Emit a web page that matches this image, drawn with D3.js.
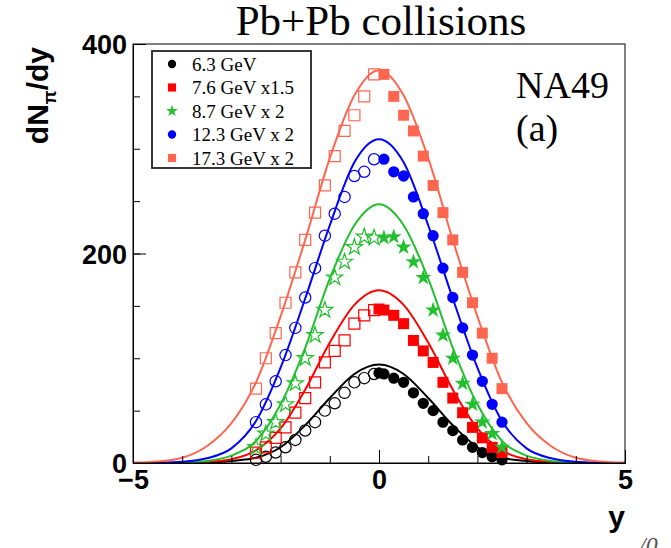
<!DOCTYPE html>
<html>
<head>
<meta charset="utf-8">
<script src="https://cdn.jsdelivr.net/npm/d3@7"></script>
<style>
  body { margin: 0; background: #fff; }
</style>
</head>
<body>
<div id="chart"></div>
<script>
const width = 671,
  height = 548,
  margin = { top: 44, right: 46, bottom: 85, left: 133 };

// model curves, sampled every 0.5 units of rapidity
const curveRapidity = [-5, -4.5, -4, -3.5, -3, -2.5, -2, -1.5, -1, -0.5, 0, 0.5, 1, 1.5, 2, 2.5, 3, 3.5, 4, 4.5, 5];
const curve63  = [0, 0, 0.1, 0.5, 2, 5, 15, 36, 62, 85, 94, 85, 62, 36, 15, 5, 2, 0.5, 0.1, 0, 0];
const curve76  = [0, 0, 0.3, 1, 3.5, 12, 33, 70, 115, 151, 165, 151, 115, 70, 33, 12, 3.5, 1, 0.3, 0, 0];
const curve87  = [0, 0, 0.5, 2, 7, 21, 56, 110, 176, 227, 247, 227, 176, 110, 56, 21, 7, 2, 0.5, 0, 0];
const curve123 = [0, 0.3, 1.2, 4.5, 14, 40, 91, 157, 227, 287, 309, 287, 227, 157, 91, 40, 14, 4.5, 1.2, 0.3, 0];
const curve173 = [0.4, 1.5, 5, 16, 38, 77, 140, 213, 291, 351, 375, 351, 291, 213, 140, 77, 38, 16, 5, 1.5, 0.4];

// measured points, forward hemisphere (the backward ones are their reflection, drawn open)
const rapidity63  = [0, 0.1, 0.3, 0.5, 0.7, 0.9, 1.1, 1.3, 1.5, 1.7, 1.9, 2.1, 2.3, 2.5];
const points63    = [86, 85, 81, 77, 67, 57, 50, 39, 31, 22, 15, 10, 6, 3];
const rapidity76  = [0, 0.1, 0.3, 0.5, 0.7, 0.9, 1.1, 1.3, 1.5, 1.7, 1.9, 2.1, 2.3, 2.5];
const points76    = [147, 146, 141, 133, 117, 107, 96, 77, 62, 48, 34, 24, 15, 10];
const rapidity87  = [0.1, 0.3, 0.5, 0.7, 0.9, 1.1, 1.3, 1.5, 1.7, 1.9, 2.1, 2.3, 2.5];
const points87    = [215, 216, 206, 192, 177, 146, 122, 100, 76, 56, 39, 28, 15];
const rapidity123 = [0.1, 0.3, 0.5, 0.7, 0.9, 1.1, 1.3, 1.5, 1.7, 1.9, 2.1, 2.3, 2.5];
const points123   = [290, 278, 274, 254, 238, 217, 186, 158, 129, 103, 78, 56, 39];
const rapidity173 = [0.1, 0.3, 0.5, 0.7, 0.9, 1.1, 1.3, 1.5, 1.7, 1.9, 2.1, 2.3, 2.5];
const points173   = [371, 350, 332, 317, 293, 265, 239, 213, 182, 153, 124, 100, 71];

const seriesLabels = ["6.3 GeV", "7.6 GeV x1.5", "8.7 GeV x 2", "12.3 GeV x 2", "17.3 GeV x 2"];
const seriesColors = ["#000000", "#ff0000", "#22c02e", "#0000ff", "#ff6650"];

const xTicks = [-5, 0, 5];
const yTicks = [0, 200, 400];

const series = [
  { curve: curve63,  ys: rapidity63,  vals: points63,  symbol: d3.symbolCircle, size: 100 },
  { curve: curve76,  ys: rapidity76,  vals: points76,  symbol: d3.symbolSquare, size: 121 },
  { curve: curve87,  ys: rapidity87,  vals: points87,  symbol: d3.symbolStar,   size: 80 },
  { curve: curve123, ys: rapidity123, vals: points123, symbol: d3.symbolCircle, size: 100 },
  { curve: curve173, ys: rapidity173, vals: points173, symbol: d3.symbolSquare, size: 121 }
].map((s, i) => ({ ...s, label: seriesLabels[i], color: seriesColors[i] }));

const svg = d3.select("#chart")
  .append("svg")
  .attr("width", width)
  .attr("height", height);

const xScale = d3.scaleLinear()
  .domain([-5, 5])
  .range([margin.left, width - margin.right]);

const yScale = d3.scaleLinear()
  .domain([0, 400])
  .range([height - margin.bottom, margin.top]);

const lineFunc = d3.line()
  .x(d => xScale(d[0]))
  .y(d => yScale(d[1]))
  .curve(d3.curveMonotoneX);

// curves
svg.append("g")
  .selectAll("path")
  .data(series)
  .join("path")
  .attr("fill", "none")
  .attr("stroke", d => d.color)
  .attr("stroke-width", 2)
  .attr("d", d => lineFunc(curveRapidity.map((y, i) => [y, d.curve[i]])));

// points: filled for y >= 0, open reflection for y < 0
series.forEach(s => {
  const sym = d3.symbol().type(s.symbol).size(s.size);
  const g = svg.append("g");
  const back = s.ys.filter(y => y > 0).map(y => [-y, s.vals[s.ys.indexOf(y)]]);
  g.selectAll("path.open")
    .data(back)
    .join("path")
    .attr("class", "open")
    .attr("transform", d => `translate(${xScale(d[0])},${yScale(d[1])})`)
    .attr("d", sym)
    .attr("fill", "none")
    .attr("stroke", s.color)
    .attr("stroke-width", 1.2);
  g.selectAll("path.filled")
    .data(s.ys.map((y, i) => [y, s.vals[i]]))
    .join("path")
    .attr("class", "filled")
    .attr("transform", d => `translate(${xScale(d[0])},${yScale(d[1])})`)
    .attr("d", sym)
    .attr("fill", s.color);
});

// frame
svg.append("rect")
  .attr("x", margin.left)
  .attr("y", margin.top)
  .attr("width", width - margin.left - margin.right)
  .attr("height", height - margin.top - margin.bottom)
  .attr("fill", "none")
  .attr("stroke", "#000")
  .attr("stroke-width", 1);

// AXES
const xAxis = svg.append("g")
  .attr("transform", `translate(0,${height - margin.bottom})`);
xAxis.call(d3.axisBottom(xScale).tickValues(d3.range(-5, 6, 1)).tickSize(-7).tickSizeOuter(0).tickFormat(""));
xAxis.append("g")
  .call(d3.axisBottom(xScale).tickValues(xTicks).tickSize(-13).tickSizeOuter(0).tickPadding(7).tickFormat(d3.format("d")));

const yAxis = svg.append("g")
  .attr("transform", `translate(${margin.left},0)`);
yAxis.call(d3.axisLeft(yScale).tickValues(d3.range(0, 401, 50)).tickSize(-7).tickSizeOuter(0).tickFormat(""));
yAxis.append("g")
  .call(d3.axisLeft(yScale).tickValues(yTicks).tickSize(-13).tickSizeOuter(0).tickPadding(6).tickFormat(d3.format("d")));

svg.selectAll(".domain").attr("stroke", "#000");
svg.selectAll(".tick line").attr("stroke", "#000");
svg.selectAll(".tick text")
  .attr("font-family", "Liberation Sans, Arial, sans-serif")
  .attr("font-weight", "bold")
  .attr("font-size", 27)
  .attr("fill", "#000");
yAxis.selectAll(".tick text").attr("dy", "0.36em");

// axis titles
svg.append("text")
  .attr("transform", "translate(48,47) rotate(-90)")
  .attr("text-anchor", "end")
  .attr("font-family", "Liberation Sans, Arial, sans-serif")
  .attr("font-weight", "bold")
  .attr("font-size", 30)
  .call(t => {
    t.append("tspan").text("dN");
    t.append("tspan").attr("font-size", 18).attr("dy", 8).text("π");
    t.append("tspan").attr("dy", -8).text("/dy");
  });

svg.append("text")
  .attr("x", 625)
  .attr("y", 527)
  .attr("text-anchor", "end")
  .attr("font-family", "Liberation Sans, Arial, sans-serif")
  .attr("font-weight", "bold")
  .attr("font-size", 30)
  .text("y");

svg.append("text")
  .attr("x", 639)
  .attr("y", 553)
  .attr("font-family", "Liberation Serif, Times New Roman, serif")
  .attr("font-style", "italic")
  .attr("font-size", 24)
  .attr("fill", "#555")
  .text("/0");

// title and labels
svg.append("text")
  .attr("x", 381)
  .attr("y", 35)
  .attr("text-anchor", "middle")
  .attr("font-family", "Liberation Serif, Times New Roman, serif")
  .attr("font-size", 43)
  .text("Pb+Pb collisions");

svg.append("text")
  .attr("x", 516)
  .attr("y", 98)
  .attr("font-family", "Liberation Serif, Times New Roman, serif")
  .attr("font-size", 38)
  .text("NA49");

svg.append("text")
  .attr("x", 516)
  .attr("y", 141)
  .attr("font-family", "Liberation Serif, Times New Roman, serif")
  .attr("font-size", 38)
  .text("(a)");

// LEGEND
const legend = svg.append("g");
legend.append("rect")
  .attr("x", 152)
  .attr("y", 51)
  .attr("width", 159)
  .attr("height", 117)
  .attr("fill", "#fff")
  .attr("stroke", "#222")
  .attr("stroke-width", 1.8);

const rows = legend.selectAll("g.row")
  .data(series)
  .join("g")
  .attr("class", "row")
  .attr("transform", (d, i) => `translate(172,${64 + i * 23.5})`);

rows.append("path")
  .attr("d", d => d3.symbol().type(d.symbol).size(d.size * 0.55)())
  .attr("fill", d => d.color);

rows.append("text")
  .attr("x", 20)
  .attr("dy", "0.35em")
  .attr("font-family", "Liberation Serif, Times New Roman, serif")
  .attr("font-size", 19)
  .text(d => d.label);
</script>
</body>
</html>
